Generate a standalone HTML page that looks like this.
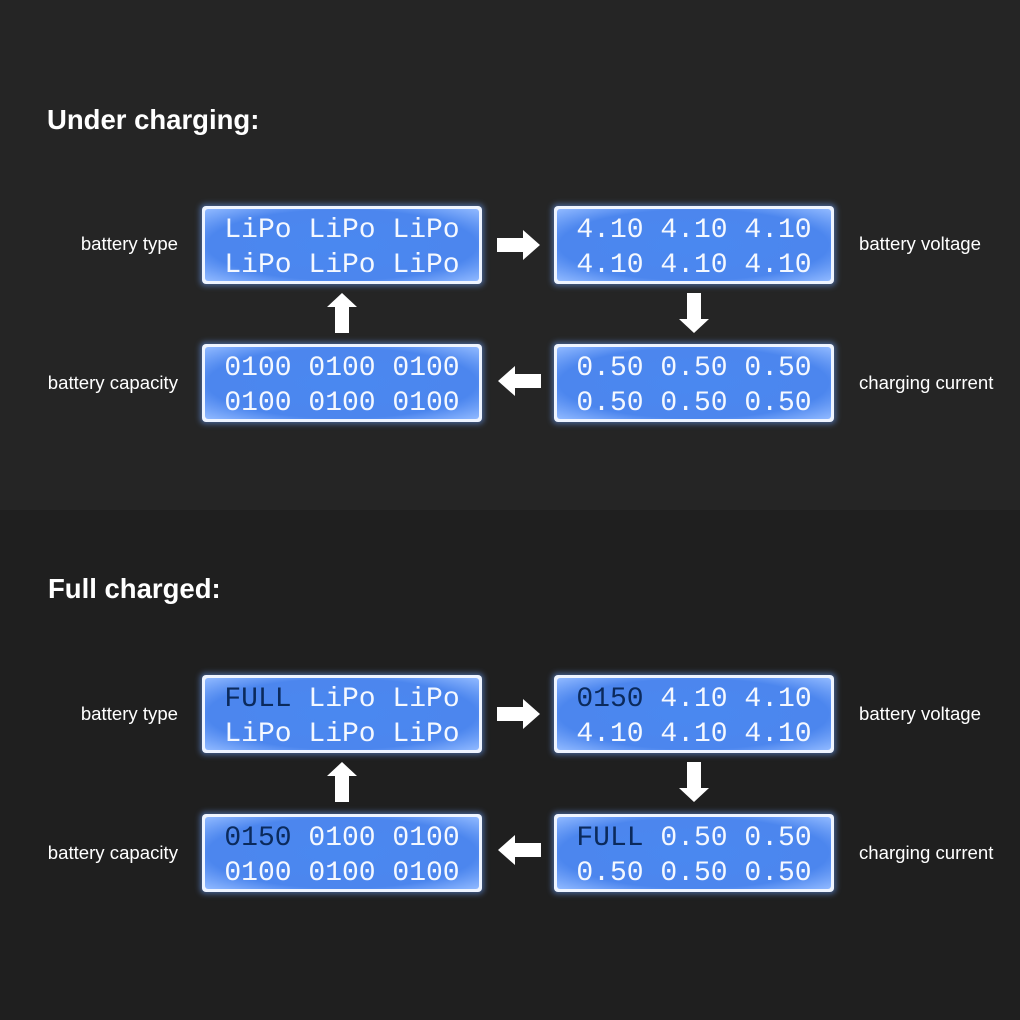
<!DOCTYPE html>
<html><head><meta charset="utf-8"><style>
html,body{margin:0;padding:0;width:1020px;height:1020px;overflow:hidden;background:#1f1f1f}
</style></head><body>
<svg width="1020" height="1020" viewBox="0 0 1020 1020" xmlns="http://www.w3.org/2000/svg">
<defs>
<radialGradient id="lcd" cx="50%" cy="50%" r="70%">
<stop offset="0" stop-color="#4a88f0"/><stop offset="0.7" stop-color="#4c86ee"/><stop offset="1" stop-color="#8fb8ff"/>
</radialGradient>
<filter id="glow" x="-10%" y="-20%" width="120%" height="140%"><feGaussianBlur stdDeviation="3"/></filter>
<g id="box">
<rect x="-2" y="-2" width="284" height="82" rx="5" fill="#6aa0ff" opacity="0.5" filter="url(#glow)"/>
<rect x="0" y="0" width="280" height="78" rx="4" fill="#eef4ff"/>
<rect x="3" y="3" width="274" height="72" rx="3" fill="url(#lcd)"/>
</g>
<g id="ar"><polygon points="497,238 523,238 523,230 540,245 523,260 523,252 497,252" fill="#fff"/></g>
</defs>
<rect x="0" y="0" width="1020" height="510" fill="#252525"/>
<rect x="0" y="510" width="1020" height="510" fill="#1f1f1f"/>
<g font-family="Liberation Sans, sans-serif" fill="#fff">
<text x="47" y="129" font-size="27.5" font-weight="bold">Under charging:</text>
<text x="48" y="598" font-size="27.5" font-weight="bold">Full charged:</text>
<g font-size="18.6">
<text x="178" y="250" text-anchor="end">battery type</text>
<text x="178" y="389" text-anchor="end">battery capacity</text>
<text x="859" y="250">battery voltage</text>
<text x="859" y="389">charging current</text>
<text x="178" y="720" text-anchor="end">battery type</text>
<text x="178" y="859" text-anchor="end">battery capacity</text>
<text x="859" y="720">battery voltage</text>
<text x="859" y="859">charging current</text>
</g></g>
<use href="#box" x="202" y="206"/><use href="#box" x="554" y="206"/>
<use href="#box" x="202" y="344"/><use href="#box" x="554" y="344"/>
<use href="#box" x="202" y="675"/><use href="#box" x="554" y="675"/>
<use href="#box" x="202" y="814"/><use href="#box" x="554" y="814"/>
<use href="#ar"/>
<use href="#ar" transform="translate(1038,0) scale(-1,1) translate(0,136)"/>
<polygon points="335,333 349,333 349,307 357,307 342,293 327,307 335,307" fill="#fff"/>
<polygon points="687,293 701,293 701,319 709,319 694,333 679,319 687,319" fill="#fff"/>
<g transform="translate(0,469)">
<use href="#ar"/>
<use href="#ar" transform="translate(1038,0) scale(-1,1) translate(0,136)"/>
<polygon points="335,333 349,333 349,307 357,307 342,293 327,307 335,307" fill="#fff"/>
<polygon points="687,293 701,293 701,319 709,319 694,333 679,319 687,319" fill="#fff"/>
</g>
<g font-family="Liberation Mono, monospace" font-size="28" fill="#f4f8ff" text-anchor="middle">
<text x="342" y="237">LiPo LiPo LiPo</text><text x="342" y="272">LiPo LiPo LiPo</text>
<text x="694" y="237">4.10 4.10 4.10</text><text x="694" y="272">4.10 4.10 4.10</text>
<text x="342" y="375">0100 0100 0100</text><text x="342" y="410">0100 0100 0100</text>
<text x="694" y="375">0.50 0.50 0.50</text><text x="694" y="410">0.50 0.50 0.50</text>
<text x="342" y="706"><tspan fill="#0b2a5c">FULL</tspan> LiPo LiPo</text><text x="342" y="741">LiPo LiPo LiPo</text>
<text x="694" y="706"><tspan fill="#0b2a5c">0150</tspan> 4.10 4.10</text><text x="694" y="741">4.10 4.10 4.10</text>
<text x="342" y="845"><tspan fill="#0b2a5c">0150</tspan> 0100 0100</text><text x="342" y="880">0100 0100 0100</text>
<text x="694" y="845"><tspan fill="#0b2a5c">FULL</tspan> 0.50 0.50</text><text x="694" y="880">0.50 0.50 0.50</text>
</g>
</svg>
</body></html>
